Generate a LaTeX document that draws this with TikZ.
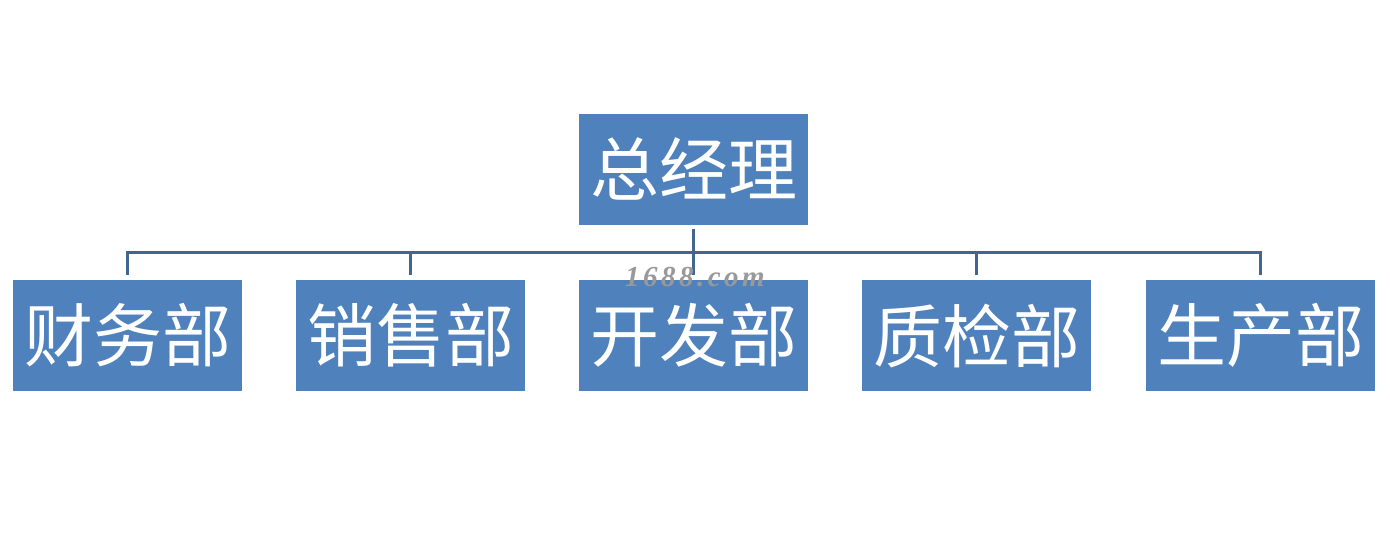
\documentclass[tikz,border=0pt]{standalone}
\usepackage{fontspec}
\newfontfamily\cjk{Noto Sans CJK SC}
\setmainfont{Liberation Serif}
\definecolor{boxblue}{HTML}{4F81BD}
\definecolor{lineblue}{HTML}{41668F}
\begin{document}
\begin{tikzpicture}[x=1pt,y=-1pt,
  unit/.style={fill=boxblue,minimum width=229pt,minimum height=111pt,inner sep=0pt,
    text=white,font=\cjk\fontsize{69}{69}\selectfont},
  link/.style={draw=lineblue,line width=3pt},
  mark text/.style={text=gray!80,font=\bfseries\itshape\fontsize{29}{29}\selectfont\addfontfeature{LetterSpace=12}}]
\useasboundingbox (0,0) rectangle (1390,552);
\node[unit] (top) at (693.5,169) {总经理};
\node[unit] (a) at (127.5,335.5) {财务部};
\node[unit] (b) at (410.5,335.5) {销售部};
\node[unit] (c) at (693.5,335.5) {开发部};
\node[unit] (d) at (976.5,335.5) {质检部};
\node[unit] (e) at (1260.5,335.5) {生产部};
\coordinate (bar) at (0,252);
\draw[link] ([yshift=-4pt]top.south) -- ([yshift=5pt]c.north);
\draw[link] ([yshift=5pt]a.north) -- (a.north |- bar) -- (e.north |- bar) -- ([yshift=5pt]e.north);
\draw[link] (b.north |- bar) -- ([yshift=5pt]b.north);
\draw[link] (d.north |- bar) -- ([yshift=5pt]d.north);
\node[mark text] (wm) at (695,277) {1688.com};
\end{tikzpicture}
\end{document}
